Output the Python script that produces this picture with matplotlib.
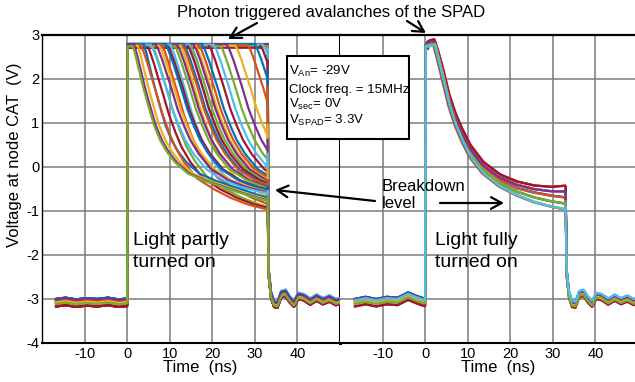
import numpy as np
import matplotlib
matplotlib.use("Agg")
import matplotlib.pyplot as plt
from matplotlib.patches import Rectangle, FancyArrowPatch

plt.rcParams['font.family'] = ['Liberation Sans', 'DejaVu Sans']
plt.rcParams['mathtext.fontset'] = 'custom'
plt.rcParams['mathtext.rm'] = 'Liberation Sans'
plt.rcParams['mathtext.it'] = 'Liberation Sans'
plt.rcParams['axes.unicode_minus'] = False

# ---- data ----
xticks = [-10, 0, 10, 20, 30, 40]
yticks = [-4, -3, -2, -1, 0, 1, 2, 3]

# baseline before the clock edge (ns, V)
t_base_left = [-16.7, -14.5, -12.0, -9.5, -7.0, -4.5, -2.0, -0.1]
v_base_left = [-3.05, -3.02, -3.06, -3.03, -3.05, -3.02, -3.06, -3.04]
t_base_right = [-16.5, -14.0, -11.5, -9.0, -6.5, -4.0, -2.0, -0.2]
v_base_right = [-3.05, -3.00, -3.05, -3.00, -3.02, -2.90, -2.98, -3.04]
base_offset = [0.05, 0.0, -0.03, 0.04, -0.06, 0.02, -0.12]

# decay after an avalanche, time counted from the trigger (ns, V)
dt_decay = [0, 0.5, 1.5, 2.5, 3.5, 5, 6.5, 8, 10, 13, 17, 21, 25, 29, 33]
decay_profiles = {
    'fast':  [2.75, 2.60, 2.20, 1.80, 1.45, 0.95, 0.60, 0.35, 0.10, -0.15, -0.32, -0.45, -0.58, -0.70, -0.80],
    'lmid':  [2.75, 2.68, 2.42, 2.12, 1.82, 1.33, 0.95, 0.62, 0.30, -0.05, -0.30, -0.45, -0.55, -0.62, -0.68],
    'llow':  [2.72, 2.64, 2.35, 2.02, 1.70, 1.20, 0.80, 0.45, 0.12, -0.25, -0.50, -0.70, -0.85, -0.95, -1.02],
    'high':  [2.85, 2.88, 2.90, 2.60, 2.25, 1.65, 1.22, 0.88, 0.50, 0.12, -0.17, -0.33, -0.42, -0.45, -0.42],
    'mh':    [2.82, 2.84, 2.87, 2.55, 2.19, 1.58, 1.16, 0.81, 0.44, 0.06, -0.23, -0.40, -0.50, -0.55, -0.56],
    'mid':   [2.78, 2.80, 2.83, 2.50, 2.13, 1.52, 1.10, 0.75, 0.38, 0.00, -0.30, -0.48, -0.58, -0.65, -0.70],
    'ml':    [2.76, 2.78, 2.80, 2.45, 2.06, 1.46, 1.02, 0.67, 0.30, -0.07, -0.37, -0.56, -0.69, -0.78, -0.84],
    'low':   [2.75, 2.76, 2.78, 2.40, 2.00, 1.40, 0.95, 0.60, 0.22, -0.15, -0.45, -0.65, -0.80, -0.90, -0.98],
}
plateau_left = 2.77

# light partly on: trigger time of each trace (>33 = no avalanche)
left_trigger = [40, 40, 40, 40, 40, 32.0, 31.3, 30.1, 28.4, 25.4, 23.5, 21.9, 20.4,
                19.2, 17.7, 16.9, 16.1, 15.7, 14.9, 14.6, 14.2, 13.4, 13.0, 12.6,
                11.8, 11.1, 10.3, 9.5, 9.1, 8.3, 7.5, 6.8, 6.0, 5.6, 4.8, 4.0,
                3.3, 2.5, 1.7, 1.3]
left_profile = ['lmid', 'lmid', 'lmid', 'lmid', 'lmid', 'lmid', 'lmid', 'lmid', 'lmid',
                'lmid', 'lmid', 'lmid', 'lmid', 'lmid', 'lmid', 'lmid', 'lmid', 'lmid',
                'lmid', 'llow', 'lmid', 'lmid', 'lmid', 'llow', 'lmid', 'lmid', 'llow',
                'lmid', 'lmid', 'llow', 'lmid', 'lmid', 'llow', 'lmid', 'llow', 'fast',
                'llow', 'fast', 'fast', 'fast']

# light fully on: every trace fires right after the edge
right_trigger = [0.3, 0.4, 0.5, 0.5, 0.6, 0.6, 0.7, 0.7, 0.8, 0.8, 0.9, 1.0,
                 0.4, 0.6, 0.5, 0.7, 0.9, 0.3, 0.6, 0.8]
right_profile = ['mid', 'low', 'high', 'mh', 'ml', 'mid', 'high', 'low', 'mh', 'ml',
                 'mid', 'low', 'mh', 'high', 'ml', 'mid', 'low', 'mh', 'ml', 'low']

# falling edge at 33 ns and the ringing after it
t_edge = 33.0
t_ring = [33.25, 33.8, 34.5, 35.3, 36.2, 37.2, 38.2, 39.2, 40.2, 41.5, 43.0,
          44.5, 46.0, 47.5, 49.0, 50.5]
v_ring = [-2.4, -2.9, -3.1, -3.12, -2.88, -2.85, -3.0, -3.1, -2.92, -2.95, -3.05,
          -2.96, -3.04, -2.98, -3.06, -3.03]
ring_offset = [0.04, 0.0, -0.03, 0.03, -0.05, 0.06, -0.08]

colors = ['#0072BD', '#D95319', '#EDB120', '#7E2F8E', '#77AC30', '#4DBEEE', '#A2142F']

W, H = 635, 382
fig = plt.figure(figsize=(W / 100, H / 100), dpi=100)


def fx(px):
    return px / W


def fy(py):
    return 1 - py / H


axL = fig.add_axes([fx(42), fy(343), 298 / W, 308 / H])
axR = fig.add_axes([fx(340), fy(343), 298 / W, 308 / H])


def draw_panel(ax, trig, prof, t_base, v_base, plateau):
    clip = Rectangle((-20, -4), 20 + t_edge, 7, transform=ax.transData)
    for i, (tt, p) in enumerate(zip(trig, prof)):
        c = colors[i % 7]
        off = base_offset[i % 7]
        dv = decay_profiles[p]
        top = plateau + off * 0.5
        t = list(t_base) + [0.0, 0.15]
        v = [b + off for b in v_base] + [v_base[-1] + off, top]
        if tt > 0.2:
            t.append(tt)
            v.append(top)
        t += [tt + d for d in dt_decay]
        v += dv
        ln, = ax.plot(t, v, color=c, lw=1.6, solid_joinstyle='round', zorder=3)
        ln.set_clip_path(clip)
        # where the trace stands when the clock edge arrives
        seen = [vv for td, vv in zip([tt + d for d in dt_decay], dv) if td <= t_edge]
        v_end = seen[-1] if seen else top
        roff = ring_offset[i % 7]
        ax.plot([t_edge] + t_ring, [v_end] + [r + roff for r in v_ring],
                color=c, lw=1.6, solid_joinstyle='round', zorder=3)


draw_panel(axL, left_trigger, left_profile, t_base_left, v_base_left, plateau_left)
draw_panel(axR, right_trigger, right_profile, t_base_right, v_base_right, 2.75)

for ax in (axL, axR):
    ax.set_xlim(-20, 50)
    ax.set_ylim(-4, 3)
    ax.set_xticks(xticks)
    ax.set_yticks(yticks)
    ax.grid(True, color='#7a7a7a', lw=1.1)
    ax.set_axisbelow(True)
    ax.tick_params(length=0, labelsize=10.5, pad=3)
    ax.set_xlabel('Time  (ns)', fontsize=12)
    ax.xaxis.set_label_coords(0.53, -0.055)
    ax.spines['top'].set_linewidth(1.6)
    ax.spines['bottom'].set_linewidth(1.5)
    for s in ax.spines.values():
        s.set_color('black')

axL.spines['left'].set_linewidth(1.0)
axL.spines['right'].set_linewidth(2.2)
axR.spines['left'].set_visible(False)
axR.spines['right'].set_visible(False)
axR.tick_params(labelleft=False)
axL.tick_params(axis='y', pad=2)

fig.text(fx(15), fy(155), 'Voltage at node CAT  (V)', rotation=90,
         ha='center', va='center', fontsize=12)

fig.text(fx(331), fy(13), 'Photon triggered avalanches of the SPAD',
         ha='center', va='center', fontsize=12)

# parameter box
fig.add_artist(Rectangle((fx(287), fy(139)), (409 - 287) / W, (139 - 56) / H,
                         transform=fig.transFigure, fill=True, facecolor='white',
                         edgecolor='black', lw=1.5, zorder=5))
box_lines = [r'V$_{\mathrm{An}}$= -29V', 'Clock freq. = 15MHz',
             r'V$_{\mathrm{sec}}$= 0V', r'V$_{\mathrm{SPAD}}$= 3.3V']
for s, yb in zip(box_lines, [75, 93, 107.5, 124]):
    fig.text(fx(289), fy(yb), s, ha='left', va='baseline', fontsize=9.5, zorder=6)

fig.text(fx(382), fy(191), 'Breakdown', ha='left', va='baseline', fontsize=12)
fig.text(fx(382), fy(208), 'level', ha='left', va='baseline', fontsize=12)

fig.text(fx(133), fy(245), 'Light partly', ha='left', va='baseline', fontsize=14)
fig.text(fx(133), fy(267), 'turned on', ha='left', va='baseline', fontsize=14)
fig.text(fx(435), fy(245), 'Light fully', ha='left', va='baseline', fontsize=14)
fig.text(fx(435), fy(267), 'turned on', ha='left', va='baseline', fontsize=14)

arrows = [((257, 23), (228, 39)), ((407, 21), (426, 33)),
          ((375, 201), (275, 190)), ((440, 203), (504, 203))]
for (x0, y0), (x1, y1) in arrows:
    fig.add_artist(FancyArrowPatch((fx(x0), fy(y0)), (fx(x1), fy(y1)),
                                   transform=fig.transFigure,
                                   arrowstyle='->,head_length=0.55,head_width=0.3',
                                   mutation_scale=14, lw=1.6, color='black',
                                   shrinkA=0, shrinkB=0, zorder=7))

fig.savefig('out.png', dpi=100)
